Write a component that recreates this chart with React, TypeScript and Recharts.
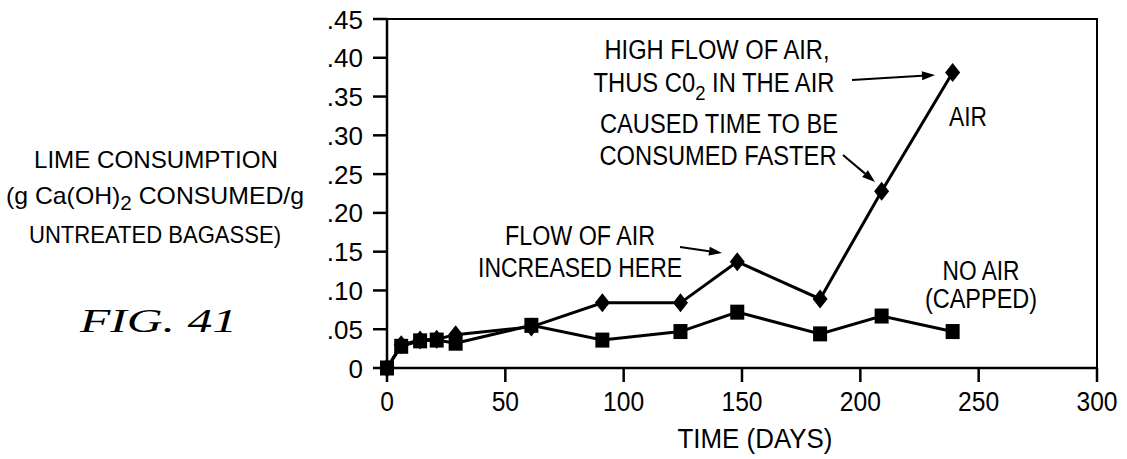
import { LineChart, Line, XAxis, YAxis, ReferenceArea } from 'recharts'

const days = [0, 6, 14, 21, 29, 61, 91, 124, 148, 183, 209, 239]
const airValues = [0, 0.03, 0.036, 0.037, 0.043, 0.053, 0.084, 0.084, 0.137, 0.089, 0.228, 0.381]
const noAirValues = [0, 0.028, 0.035, 0.036, 0.032, 0.055, 0.036, 0.047, 0.072, 0.044, 0.067, 0.047]
const xTicks = [0, 50, 100, 150, 200, 250, 300]
const yTicks = [0, 0.05, 0.1, 0.15, 0.2, 0.25, 0.3, 0.35, 0.4, 0.45]

const FONT = '"Liberation Sans", Arial, Helvetica, sans-serif'

const data = days.map((day, i) => ({ day, air: airValues[i], noAir: noAirValues[i] }))

const fmtY = (v: number) => (v === 0 ? '0' : v.toFixed(2).replace(/^0/, ''))

const Diamond = (props: any) => {
  const { cx, cy } = props
  if (cx == null || cy == null) return null
  return <polygon points={`${cx},${cy - 9.5} ${cx + 7.5},${cy} ${cx},${cy + 9.5} ${cx - 7.5},${cy}`} fill="#000" />
}

const Square = (props: any) => {
  const { cx, cy } = props
  if (cx == null || cy == null) return null
  return <rect x={cx - 7} y={cy - 7.5} width={14} height={15} fill="#000" />
}

function Arrow({ x1, y1, x2, y2 }: { x1: number; y1: number; x2: number; y2: number }) {
  const a = Math.atan2(y2 - y1, x2 - x1)
  const len = 13
  const w = 4.5
  const bx = x2 - len * Math.cos(a)
  const by = y2 - len * Math.sin(a)
  const px = -Math.sin(a) * w
  const py = Math.cos(a) * w
  return (
    <g>
      <line x1={x1} y1={y1} x2={bx} y2={by} stroke="#000" strokeWidth={2} />
      <polygon points={`${x2},${y2} ${bx + px},${by + py} ${bx - px},${by - py}`} fill="#000" />
    </g>
  )
}

function Label({ x, y, w, size = 27, children }: { x: number; y: number; w: number; size?: number; children: any }) {
  return (
    <text
      x={x}
      y={y}
      textAnchor="middle"
      textLength={w}
      lengthAdjust="spacingAndGlyphs"
      fontFamily={FONT}
      fontSize={size}
      fill="#000"
    >
      {children}
    </text>
  )
}

const XTick = (props: any) => {
  const { x, y, payload } = props
  const s = String(payload.value)
  return (
    <text x={x} y={y + 29} textAnchor="middle" textLength={s.length * 13.7} lengthAdjust="spacingAndGlyphs" fontFamily={FONT} fontSize={27} fill="#000">
      {s}
    </text>
  )
}

const YTick = (props: any) => {
  const { x, y, payload } = props
  const s = fmtY(payload.value)
  return (
    <text x={x} y={y + 9.5} textAnchor="end" fontFamily={FONT} fontSize={26} fill="#000">
      {s}
    </text>
  )
}

export default function App() {
  return (
    <div style={{ position: 'absolute', left: 0, top: 0, width: 1127, height: 459, background: '#fff' }}>
      <LineChart width={1127} height={459} data={data} margin={{ top: 19, right: 30, bottom: 31, left: 327 }}>
        <ReferenceArea x1={0} x2={300} y1={0} y2={0.45} fill="none" stroke="#000" strokeWidth={2} />
        <XAxis
          dataKey="day"
          type="number"
          domain={[0, 300]}
          ticks={xTicks}
          height={60}
          tickSize={14}
          tickMargin={0}
          stroke="#000"
          strokeWidth={2.5}
          tick={<XTick />}
        />
        <YAxis
          type="number"
          domain={[0, 0.45]}
          ticks={yTicks}
          width={60}
          tickSize={14}
          tickMargin={10}
          stroke="#000"
          strokeWidth={2.5}
          tick={<YTick />}
        />
        <Line dataKey="noAir" type="linear" stroke="#000" strokeWidth={3} dot={<Square />} isAnimationActive={false} />
        <Line dataKey="air" type="linear" stroke="#000" strokeWidth={3} dot={<Diamond />} isAnimationActive={false} />
      </LineChart>
      <svg width={1127} height={459} style={{ position: 'absolute', left: 0, top: 0, pointerEvents: 'none' }}>
        <Label x={156} y={168} w={244} size={24}>LIME CONSUMPTION</Label>
        <Label x={155} y={204} w={298} size={24}>
          (g Ca(OH)<tspan dy={6} fontSize={20}>2</tspan><tspan dy={-6}> CONSUMED/g</tspan>
        </Label>
        <Label x={155} y={243} w={252} size={24}>UNTREATED BAGASSE)</Label>
        <Label x={717} y={59} w={225}>HIGH FLOW OF AIR,</Label>
        <Label x={714} y={92} w={241}>
          THUS C0<tspan dy={8} fontSize={21}>2</tspan><tspan dy={-8}> IN THE AIR</tspan>
        </Label>
        <Label x={719} y={133} w={238}>CAUSED TIME TO BE</Label>
        <Label x={718} y={165} w={237}>CONSUMED FASTER</Label>
        <Label x={580} y={245} w={150}>FLOW OF AIR</Label>
        <Label x={580} y={277} w={204}>INCREASED HERE</Label>
        <Label x={981} y={280} w={77}>NO AIR</Label>
        <Label x={981} y={308} w={112}>(CAPPED)</Label>
        <Label x={968} y={126} w={38}>AIR</Label>
        <Label x={755} y={448} w={155}>TIME (DAYS)</Label>
        <text
          x={80}
          y={332}
          textLength={157}
          lengthAdjust="spacingAndGlyphs"
          fontFamily='"Liberation Serif", "Times New Roman", serif'
          fontStyle="italic"
          fontSize={33}
          fill="#000"
        >
          FIG. 41
        </text>
        <Arrow x1={852} y1={80} x2={935} y2={75} />
        <Arrow x1={843} y1={155} x2={875} y2={182} />
        <Arrow x1={680} y1={247} x2={722} y2={253} />
      </svg>
    </div>
  )
}
